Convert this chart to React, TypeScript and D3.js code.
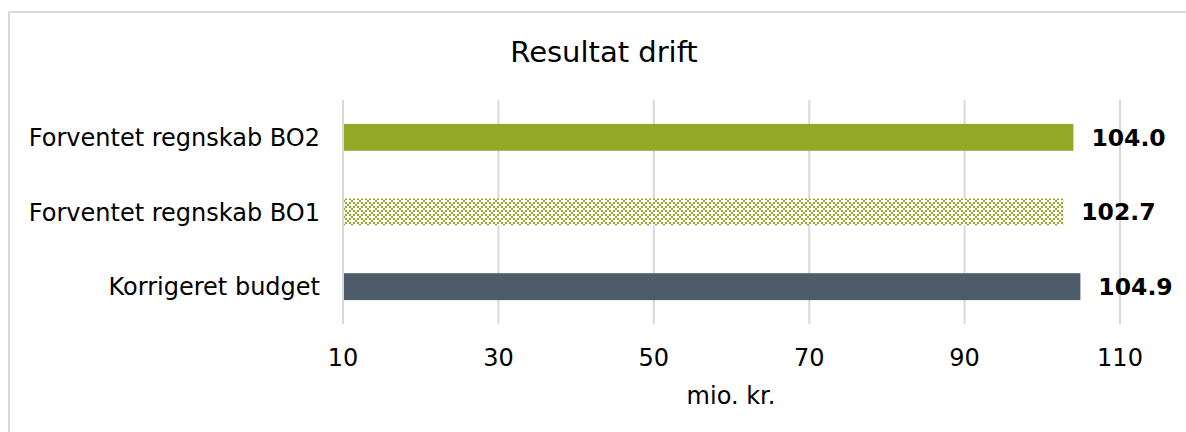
import React from "react";
import * as d3 from "d3";

const categories = ["Forventet regnskab BO2", "Forventet regnskab BO1", "Korrigeret budget"];
const values = [104.0, 102.7, 104.9];
const fills = ["solid-green", "pattern", "solid-slate"];
const ticks = [10, 30, 50, 70, 90, 110];

const W = 1186;
const H = 432;
const GREEN = "#94A828";
const SLATE = "#4E5B6A";
const FONT = "'DejaVu Sans', Verdana, sans-serif";

export default function App() {
  const x = d3.scaleLinear().domain([10, 110]).range([343, 1120]);
  const y = d3.scaleBand<string>().domain(categories).range([100, 324]).paddingInner(0.64).paddingOuter(0.32);
  const bw = y.bandwidth();
  const patCells = [
    [0, 0], [2, 2], [4, 4], [6, 6], [2, 6], [6, 2],
  ];
  return (
    <svg width={W} height={H} style={{ position: "absolute", left: 0, top: 0 }}>
      <defs>
        <pattern id="dd" patternUnits="userSpaceOnUse" width={8} height={8} x={343} y={0}>
          <rect width={8} height={8} fill="#fff" />
          {patCells.map(([a, b], i) => (
            <rect key={i} x={a} y={b} width={2} height={2} fill={GREEN} />
          ))}
        </pattern>
      </defs>
      <rect x={0} y={0} width={W} height={H} fill="#fff" />
      <rect x={9} y={12} width={W + 20} height={H + 20} fill="#fff" stroke="#d9d9d9" strokeWidth={2} />
      <text x={604} y={52} dy="0.36em" textAnchor="middle" fontFamily={FONT} fontSize={29} fill="#000">
        Resultat drift
      </text>
      {ticks.map((t) => (
        <line key={t} x1={x(t)} x2={x(t)} y1={100} y2={324} stroke="#d9d9d9" strokeWidth={2} />
      ))}
      {categories.map((c, i) => {
        const yy = y(c)!;
        const fill = fills[i] === "pattern" ? "url(#dd)" : fills[i] === "solid-green" ? GREEN : SLATE;
        return (
          <g key={c}>
            <rect x={x(10) + 1} y={yy} width={x(values[i]) - x(10) - 1} height={bw} fill={fill} />
            <text x={x(values[i]) + 18} y={yy + bw / 2} dy="0.36em" fontFamily={FONT} fontSize={23.5} fontWeight="bold" fill="#000">
              {values[i].toFixed(1)}
            </text>
            <text x={320} y={yy + bw / 2} dy="0.36em" textAnchor="end" fontFamily={FONT} fontSize={24} fill="#000">
              {c}
            </text>
          </g>
        );
      })}
      {ticks.map((t) => (
        <text key={t} x={x(t)} y={357} dy="0.36em" textAnchor="middle" fontFamily={FONT} fontSize={24} fill="#000">
          {t}
        </text>
      ))}
      <text x={731} y={395} dy="0.36em" textAnchor="middle" fontFamily={FONT} fontSize={24} fill="#000">
        mio. kr.
      </text>
    </svg>
  );
}
